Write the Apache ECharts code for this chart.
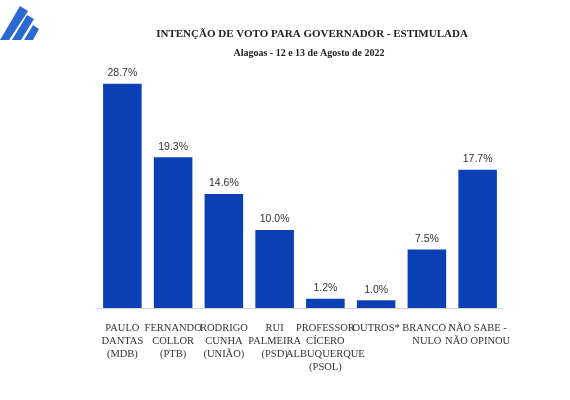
<!DOCTYPE html>
<html><head><meta charset="utf-8">
<script src="https://cdn.jsdelivr.net/npm/echarts@6/dist/echarts.min.js"></script>
<style>html,body{margin:0;padding:0;background:#fff}#c{width:570px;height:400px}</style>
</head><body><div id="c"></div>
<script>
const categories = ["PAULO\nDANTAS\n(MDB)","FERNANDO\nCOLLOR\n(PTB)","RODRIGO\nCUNHA\n(UNIÃO)","RUI\nPALMEIRA\n(PSD)","PROFESSOR\nCÍCERO\nALBUQUERQUE\n(PSOL)","OUTROS*","BRANCO /\nNULO","NÃO SABE -\nNÃO OPINOU"];
const values = [28.7,19.3,14.6,10.0,1.2,1.0,7.5,17.7];
const titleText = "INTENÇÃO DE VOTO PARA GOVERNADOR - ESTIMULADA";
const subtitleText = "Alagoas - 12 e 13 de Agosto de 2022";
const chart = echarts.init(document.getElementById('c'));
chart.setOption({
  animation:false,
  title:[
    {text:titleText,left:307,top:24,textAlign:'center',textStyle:{fontFamily:"'Liberation Serif', serif",fontSize:11,fontWeight:'bold',color:'#222'}},
    {text:subtitleText,left:304,top:43,textAlign:'center',textStyle:{fontFamily:"'Liberation Serif', serif",fontSize:10,fontWeight:'bold',color:'#222'}}
  ],
  graphic:[
    {type:'polygon',shape:{points:[[0,40],[20,6],[28,11],[9,40]]},style:{fill:'#2a6ad0'}},
    {type:'polygon',shape:{points:[[12,40],[27,15],[34,19],[21,40]]},style:{fill:'#2a6ad0'}},
    {type:'polygon',shape:{points:[[24,40],[33,25],[39,29],[33,40]]},style:{fill:'#2a6ad0'}}
  ],
  grid:{left:97,right:67,top:58,bottom:92},
  xAxis:{type:'category',data:categories,
    axisLine:{lineStyle:{color:'#d9d9d9'}},axisTick:{show:false},
    axisLabel:{interval:0,fontFamily:"'Liberation Serif', serif",fontSize:10.5,color:'#333',lineHeight:13,margin:14}},
  yAxis:{type:'value',min:0,max:32,show:false,splitLine:{show:false}},
  series:[{type:'bar',data:values,barWidth:'76%',itemStyle:{color:'#0a40b4'},
    label:{show:true,position:'top',formatter:p=>p.value.toFixed(1)+'%',fontFamily:"'Liberation Sans', sans-serif",fontSize:10.5,color:'#333'}}]
});
</script></body></html>
